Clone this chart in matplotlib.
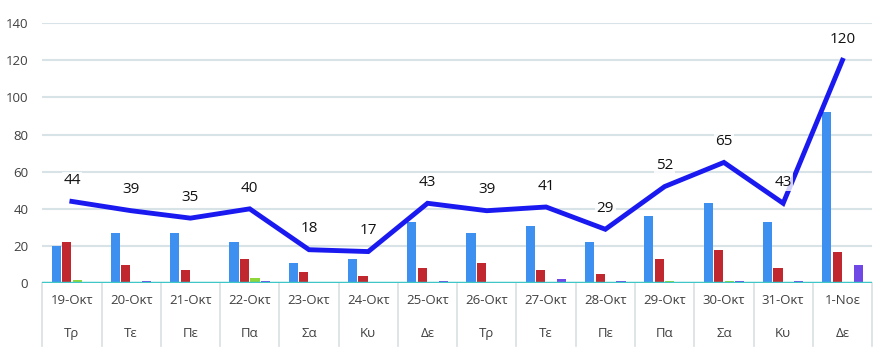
import matplotlib.pyplot as plt
import numpy as np

plt.rcParams['font.family'] = ['Open Sans', 'DejaVu Sans']

dates = ["19-Οκτ", "20-Οκτ", "21-Οκτ", "22-Οκτ", "23-Οκτ", "24-Οκτ", "25-Οκτ",
         "26-Οκτ", "27-Οκτ", "28-Οκτ", "29-Οκτ", "30-Οκτ", "31-Οκτ", "1-Νοε"]
days = ["Τρ", "Τε", "Πε", "Πα", "Σα", "Κυ", "Δε",
        "Τρ", "Τε", "Πε", "Πα", "Σα", "Κυ", "Δε"]

blue = [20, 27, 27, 22, 11, 13, 33, 27, 31, 22, 36, 43, 33, 92]
red = [22, 10, 7, 13, 6, 4, 8, 11, 7, 5, 13, 18, 8, 17]
green = [1.5, 0, 0, 3, 0, 0, 0, 0, 0, 0, 1, 1, 0, 0.7]
purple = [0, 1, 0, 1, 0, 0, 1, 0, 2.5, 1, 0, 1, 1, 10]
total = [44, 39, 35, 40, 18, 17, 43, 39, 41, 29, 52, 65, 43, 120]

x = np.arange(len(dates))

fig = plt.figure(figsize=(8.8, 3.5), dpi=100)
ax = fig.add_axes([0.048, 0.191, 0.943, 0.743])

# grid
for v in range(20, 141, 20):
    ax.axhline(v, color='#d8e3e8', lw=1.5, zorder=0)

w = 0.155
step = 0.177
series = [(blue, '#3d8ff0'), (red, '#c1272f'), (green, '#8ed63a'), (purple, '#7048e6')]
for k, (vals, col) in enumerate(series):
    ax.bar(x + (k - 1.5) * step, vals, width=w, color=col, zorder=2)

ax.axhline(0, color='#3fc6c6', lw=2.5, zorder=3)

ax.plot(x, total, color='#1a1af0', lw=3.5, zorder=4, solid_joinstyle='miter')
for xi, t in zip(x, total):
    ax.annotate(str(t), (xi, t), xytext=(0, 15), textcoords='offset points',
                ha='center', va='center', fontsize=11, color='#111111',
                bbox=dict(boxstyle='square,pad=0.1', fc='white', ec='none', alpha=0.8),
                zorder=5)

ax.set_xlim(-0.5, 13.5)
ax.set_ylim(0, 140)
ax.set_yticks(range(0, 141, 20))
ax.tick_params(axis='y', length=0, pad=10, labelsize=9.5, labelcolor='#404040')
ax.set_xticks([])
for s in ax.spines.values():
    s.set_visible(False)

# two-level category axis
tr = ax.get_xaxis_transform()
for xi, d, dy in zip(x, dates, days):
    ax.text(xi, -0.065, d, transform=tr, ha='center', va='center',
            fontsize=9.5, color='#404040')
    ax.text(xi, -0.195, dy, transform=tr, ha='center', va='center',
            fontsize=9.5, color='#404040')
for b in np.arange(-0.5, 14, 1):
    ax.plot([b, b], [0, -0.24], transform=tr, color='#d9dfe3', lw=1.2, clip_on=False)

fig.savefig('out.png', dpi=100)
